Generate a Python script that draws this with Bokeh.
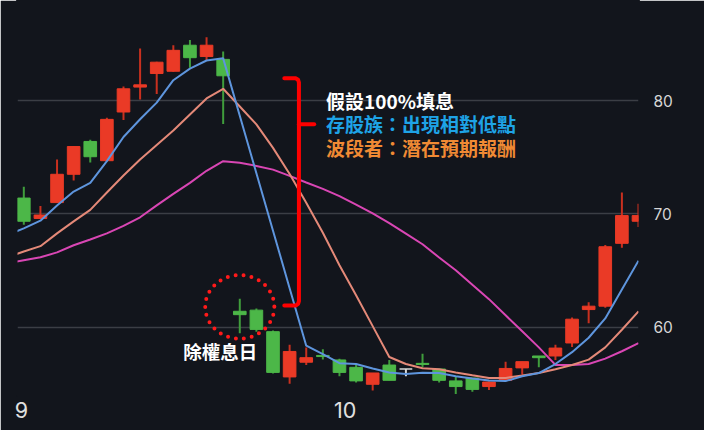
from bokeh.plotting import figure
from bokeh.models import ColumnDataSource, FixedTicker, Label, Range1d
from bokeh.embed import file_html
from bokeh.resources import INLINE
from bokeh.core.properties import value

# ---- data ----
opens  = [71.4, 69.6, 71.0, 73.5, 76.4, 74.7, 79.0, 81.2, 82.4, 82.6, 84.9, 83.9, 83.65,
          61.4, 61.5, 59.6, 55.6, 56.9, 57.5, 57.1, 56.45, 54.95, 56.65, 56.3, 56.8,
          56.3, 55.25, 55.5, 54.75, 55.3, 56.4, 57.45, 57.45, 58.6, 61.55, 61.85, 67.4, 69.35]
highs  = [72.4, 70.7, 74.8, 76.0, 76.55, 78.5, 81.25, 84.6, 83.45, 84.9, 85.35, 85.6, 84.35,
          62.5, 61.65, 59.7, 58.45, 58.2, 58.05, 57.2, 56.75, 55.95, 57.1, 56.3, 57.65,
          56.3, 55.65, 55.5, 55.2, 56.95, 56.95, 57.45, 58.45, 60.85, 62.2, 67.25, 71.9, 70.9]
lows   = [69.05, 69.55, 71.0, 72.95, 74.55, 74.7, 78.3, 80.1, 80.6, 82.55, 82.9, 83.6, 77.95,
          59.45, 59.6, 55.9, 55.0, 56.65, 57.15, 55.65, 55.1, 54.4, 55.3, 55.65, 56.45,
          55.1, 54.1, 54.3, 54.45, 55.3, 55.8, 56.45, 57.1, 58.25, 60.35, 61.7, 67.0, 68.85]
closes = [69.35, 69.9, 73.5, 75.95, 75.05, 78.35, 81.05, 81.4, 83.4, 84.45, 83.8, 84.9, 82.2,
          61.1, 59.8, 56.0, 57.85, 57.3, 57.4, 56.0, 55.25, 55.95, 55.3, 56.3, 56.7,
          55.3, 54.75, 54.5, 55.15, 56.35, 56.95, 57.3, 58.15, 60.7, 61.85, 67.1, 69.85, 69.85]

# moving-average lines, first value belongs to the day before the first candle
ma_start = -1
ma_short = [68.13, 68.72, 69.4, 70.75, 71.97, 72.74, 74.66, 76.79, 78.36, 79.83, 81.81, 82.83,
            83.55, 83.74, 78.67, 73.59, 68.52, 63.44, 58.36, 57.62, 56.81, 56.74, 56.34, 56.0,
            55.86, 55.96, 55.94, 55.66, 55.46, 55.29, 55.23, 55.66, 55.94, 56.74, 57.79, 59.06,
            60.77, 63.32, 65.87]
ma_mid   = [66.17, 66.68, 67.15, 68.28, 69.34, 70.36, 71.89, 73.39, 74.81, 76.09, 77.36, 78.78,
            80.2, 81.05, 79.49, 77.91, 75.83, 73.53, 70.98, 68.34, 65.47, 62.81, 60.09, 57.36,
            56.74, 56.37, 56.28, 56.0, 55.74, 55.51, 55.51, 55.72, 55.94, 56.28, 56.66, 57.13,
            58.21, 59.77, 61.39]
ma_long  = [65.62, 65.91, 66.17, 66.6, 67.23, 67.74, 68.28, 68.94, 69.7, 70.75, 71.77, 72.74,
            73.81, 74.66, 74.51, 74.24, 73.91, 73.36, 72.77, 72.21, 71.57, 70.81, 70.04, 69.19,
            68.26, 67.32, 66.15, 65.02, 63.74, 62.47, 61.05, 59.63, 58.21, 56.66, 56.66, 56.74,
            57.22, 57.87, 58.58]

y_ticks = [60, 70, 80]
month_labels = ["9", "10"]
month_pos = [-0.15, 19.35]

ex_div_day = 13
note_lines = ["假設100%填息", "存股族：出現相對低點", "波段者：潛在預期報酬"]
note_colors = ["#ffffff", "#1ea3e6", "#f08a34"]
ex_label = "除權息日"

# ---- styling ----
BG = "#12151c"
UP, DOWN, FLAT = "#ea3a26", "#4cb748", "#d8d8d8"
UP_W, DOWN_W = "#c9301f", "#3f9d3c"

n = len(opens)
idx = list(range(n))
body_col, wick_col = [], []
for o, c in zip(opens, closes):
    if c > o:
        body_col.append(UP); wick_col.append(UP_W)
    elif c < o:
        body_col.append(DOWN); wick_col.append(DOWN_W)
    else:
        body_col.append(FLAT); wick_col.append(FLAT)

src = ColumnDataSource(dict(
    x=idx, o=opens, h=highs, l=lows, c=closes,
    top=[max(o, c) for o, c in zip(opens, closes)],
    bot=[min(o, c) for o, c in zip(opens, closes)],
    bc=body_col, wc=wick_col,
))

p = figure(width=704, height=430,
           x_range=Range1d(-0.38, 37.0), y_range=Range1d(53.96, 88.85),
           output_backend="svg", toolbar_location=None, y_axis_location="right",
           min_border_left=17, min_border_right=66, min_border_top=0, min_border_bottom=35,
           background_fill_color=BG, border_fill_color=BG,
           outline_line_color=BG, outline_line_width=3)

p.xgrid.visible = False
p.ygrid.ticker = FixedTicker(ticks=y_ticks)
p.ygrid.grid_line_color = "#3b3e45"
p.ygrid.grid_line_width = 1.5

p.yaxis.ticker = FixedTicker(ticks=y_ticks)
p.yaxis.axis_line_color = None
p.yaxis.major_tick_line_color = None
p.yaxis.minor_tick_line_color = None
p.yaxis.major_label_standoff = 9
p.yaxis.major_label_text_color = "#d6d6d6"
p.yaxis.major_label_text_font = "Inter"
p.yaxis.major_label_text_font_size = "15.5px"

p.xaxis.ticker = FixedTicker(ticks=month_pos)
p.xaxis.major_label_overrides = {pos: lab for pos, lab in zip(month_pos, month_labels)}
p.xaxis.axis_line_color = None
p.xaxis.major_tick_line_color = None
p.xaxis.minor_tick_line_color = None
p.xaxis.major_label_standoff = 0
p.xaxis.major_label_text_color = "#e0e0e0"
p.xaxis.major_label_text_font = "Inter"
p.xaxis.major_label_text_font_size = "21.5px"

# candles
p.segment(x0="x", y0="l", x1="x", y1="h", source=src, line_color="wc", line_width=2)
p.vbar(x="x", top="top", bottom="bot", width=0.76, source=src,
       fill_color="bc", line_color="bc", line_width=1)

# moving averages
ma_x = list(range(ma_start, ma_start + len(ma_short)))
p.line(ma_x, ma_long, line_color="#d946b4", line_width=2)
p.line(ma_x, ma_mid, line_color="#e48978", line_width=2)
p.line(ma_x, ma_short, line_color="#5e95dd", line_width=2)

# dotted circle around the ex-dividend day
p.ellipse(x=[ex_div_day], y=[61.79], width=4.16, height=5.62,
          fill_color=None, line_color="#ff1a1a", line_width=4,
          line_dash="0 8", line_cap="round")

p.add_layout(Label(x=9.6, y=57.93, text=ex_label, text_color="#ffffff",
                   text_font="Noto Sans CJK TC", text_font_style="bold",
                   text_font_size="18.5px", text_baseline="middle"))

# red bracket
p.multi_line(xs=[[15.68, 16.36, 16.51, 16.56, 16.56, 16.51, 16.36, 15.68],
                 [16.56, 17.48]],
             ys=[[81.98, 81.98, 81.85, 81.6, 62.3, 62.05, 61.9, 61.9],
                 [77.93, 77.93]],
             line_color="#ff0000", line_width=4, line_join="round", line_cap="round")

for k, (t, col) in enumerate(zip(note_lines, note_colors)):
    p.add_layout(Label(x=18.19, y=80.02 - 2.07 * k, text=t, text_color=col,
                       text_font="Noto Sans CJK TC", text_font_style="bold",
                       text_font_size="19px", text_baseline="middle"))

open("out.html", "w").write(file_html(p, INLINE))
